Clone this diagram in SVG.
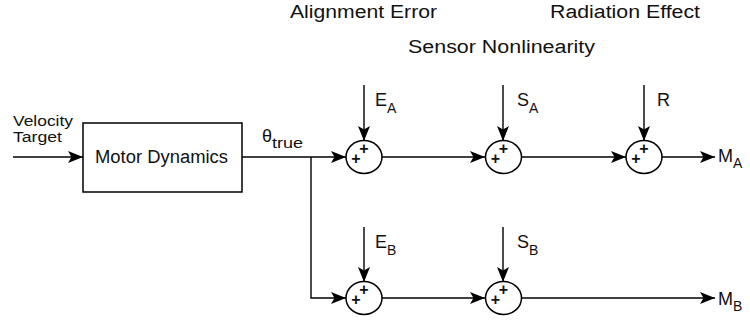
<svg xmlns="http://www.w3.org/2000/svg" width="750" height="321" viewBox="0 0 750 321">
<defs>
<style>
text{font-family:"Liberation Sans",Arial,sans-serif;fill:#111}
.lbl{font-size:18px}
.in{font-size:14px}
.sub{font-size:14px}
.pl{font-size:16px;text-anchor:middle;font-weight:bold}
.ln{stroke:#000;stroke-width:1.4;fill:none}
.sum{stroke:#000;stroke-width:1.5;fill:#fff}
.blk{stroke:#000;stroke-width:1.5;fill:#fff}
</style>
<marker id="ah" viewBox="0 0 15 12" refX="15" refY="6" markerWidth="15" markerHeight="12" markerUnits="userSpaceOnUse" orient="auto">
<path d="M0,0 L15,6 L0,12 L3.5,6 Z" fill="#000"/>
</marker>
</defs>
<rect width="750" height="321" fill="#fff"/>

<g id="titles">
<text class="lbl" x="290" y="18" textLength="147" lengthAdjust="spacingAndGlyphs">Alignment Error</text>
<text class="lbl" x="550" y="18" textLength="150" lengthAdjust="spacingAndGlyphs">Radiation Effect</text>
<text class="lbl" x="408" y="53" textLength="187" lengthAdjust="spacingAndGlyphs">Sensor Nonlinearity</text>
</g>

<g id="connectors">
<path class="ln" d="M13,157 H83" marker-end="url(#ah)"/>
<path class="ln" d="M242,157 H346" marker-end="url(#ah)"/>
<path class="ln" d="M311,157 V298 H346" marker-end="url(#ah)"/>
<path class="ln" d="M382,157 H485" marker-end="url(#ah)"/>
<path class="ln" d="M522,157 H626" marker-end="url(#ah)"/>
<path class="ln" d="M662,157 H715" marker-end="url(#ah)"/>
<path class="ln" d="M382,298 H485" marker-end="url(#ah)"/>
<path class="ln" d="M522,298 H715" marker-end="url(#ah)"/>
<path class="ln" d="M364,85 V141" marker-end="url(#ah)"/>
<path class="ln" d="M503,85 V141" marker-end="url(#ah)"/>
<path class="ln" d="M644,85 V141" marker-end="url(#ah)"/>
<path class="ln" d="M364,227 V282" marker-end="url(#ah)"/>
<path class="ln" d="M503,227 V282" marker-end="url(#ah)"/>
</g>

<g id="input">
<text class="in" x="13" y="126" textLength="60" lengthAdjust="spacingAndGlyphs">Velocity</text>
<text class="in" x="13" y="142" textLength="49" lengthAdjust="spacingAndGlyphs">Target</text>
</g>

<g id="motor">
<rect class="blk" x="83" y="123" width="159" height="69"/>
<text class="lbl" x="95" y="163" textLength="133" lengthAdjust="spacingAndGlyphs">Motor Dynamics</text>
</g>

<g id="theta">
<text class="lbl" x="262" y="142">θ</text>
<text class="sub" x="272" y="148" textLength="31" lengthAdjust="spacingAndGlyphs">true</text>
</g>

<g id="sumEA">
<ellipse class="sum" cx="364" cy="157" rx="18" ry="16.5"/>
<text class="pl" x="356" y="164">+</text>
<text class="pl" x="364" y="154">+</text>
</g>
<g id="sumSA">
<ellipse class="sum" cx="503.5" cy="157" rx="18" ry="16.5"/>
<text class="pl" x="495.5" y="164">+</text>
<text class="pl" x="503.5" y="154">+</text>
</g>
<g id="sumR">
<ellipse class="sum" cx="644" cy="157" rx="18" ry="16.5"/>
<text class="pl" x="636" y="164">+</text>
<text class="pl" x="644" y="154">+</text>
</g>
<g id="sumEB">
<ellipse class="sum" cx="364" cy="298" rx="18" ry="16.5"/>
<text class="pl" x="356" y="305">+</text>
<text class="pl" x="364" y="295">+</text>
</g>
<g id="sumSB">
<ellipse class="sum" cx="503.5" cy="298" rx="18" ry="16.5"/>
<text class="pl" x="495.5" y="305">+</text>
<text class="pl" x="503.5" y="295">+</text>
</g>

<g id="labelEA"><text class="lbl" x="375" y="106">E</text><text class="sub" x="387" y="113">A</text></g>
<g id="labelSA"><text class="lbl" x="517" y="106">S</text><text class="sub" x="529" y="113">A</text></g>
<g id="labelR"><text class="lbl" x="657" y="106">R</text></g>
<g id="labelEB"><text class="lbl" x="375" y="248">E</text><text class="sub" x="387" y="255">B</text></g>
<g id="labelSB"><text class="lbl" x="517" y="248">S</text><text class="sub" x="529" y="255">B</text></g>
<g id="outMA"><text class="lbl" x="718" y="162">M</text><text class="sub" x="733" y="168">A</text></g>
<g id="outMB"><text class="lbl" x="718" y="305">M</text><text class="sub" x="733" y="311">B</text></g>
</svg>
